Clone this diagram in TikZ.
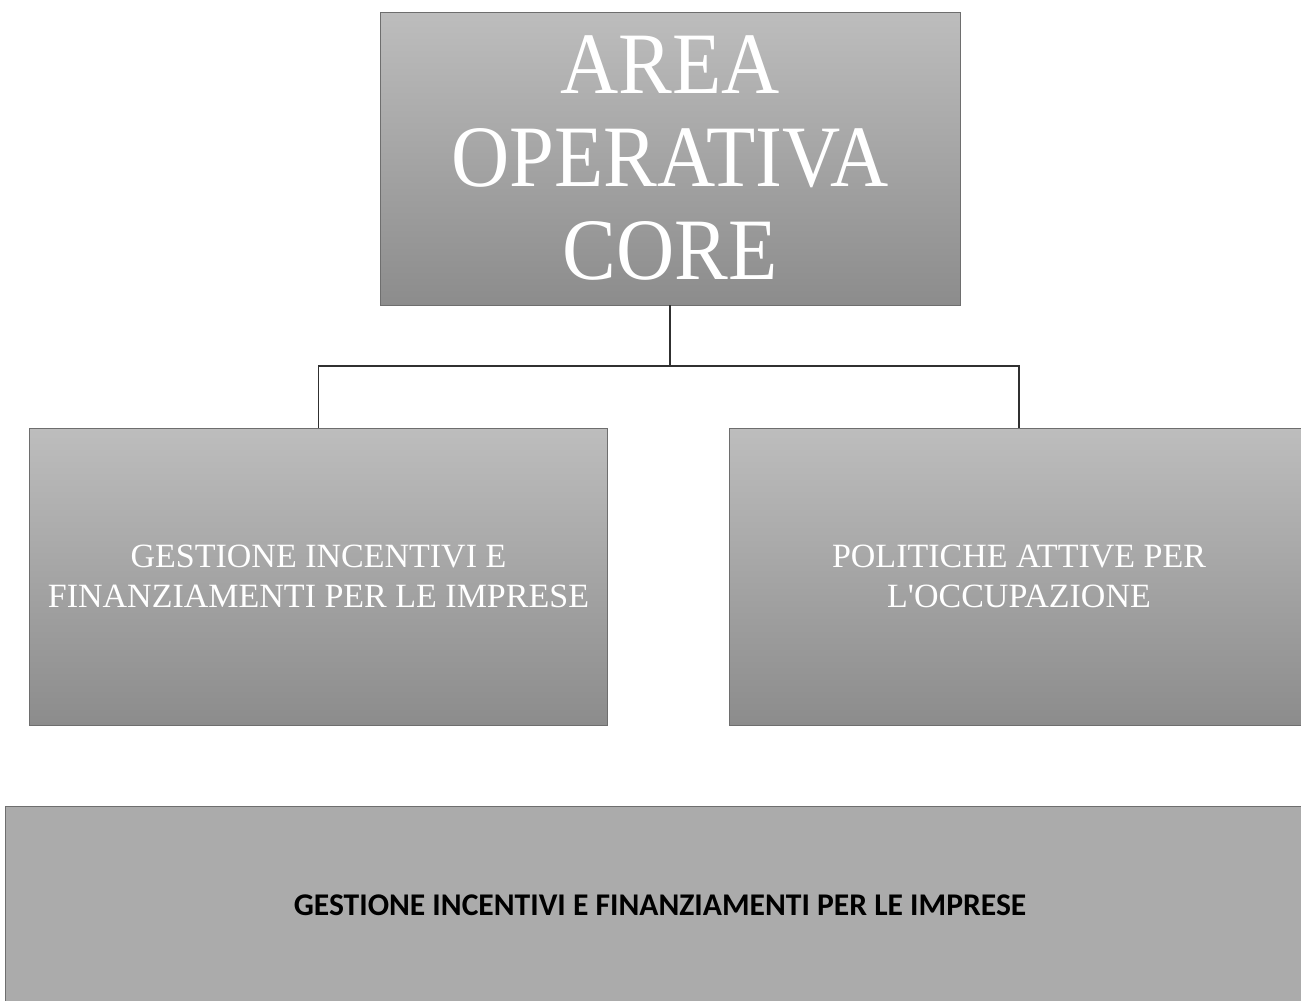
\documentclass[tikz,border=0pt]{standalone}
\usepackage{fontspec}
\setmainfont{Liberation Serif}
\newfontfamily\titlefont[FakeStretch=0.92]{Liberation Serif}
\newfontfamily\boxfont{Liberation Serif}
\newfontfamily\calfont{Carlito}
\definecolor{boxlight}{HTML}{BDBDBD}
\definecolor{boxdark}{HTML}{8C8C8C}
\definecolor{bandgray}{HTML}{ABABAB}
\definecolor{edgegray}{HTML}{6E6E6E}
\definecolor{linkgray}{HTML}{303030}
\tikzset{
  unitbox/.style={rectangle, draw=edgegray, line width=0.8pt, inner sep=0pt,
    top color=boxlight, bottom color=boxdark, text=white, align=center},
  titlebox/.style={unitbox, minimum width=580, minimum height=293,
    font=\titlefont\fontsize{87.6}{93}\selectfont},
  subbox/.style={unitbox, minimum width=578, minimum height=297,
    font=\boxfont\fontsize{34}{40}\selectfont},
  bandbox/.style={rectangle, draw=edgegray, line width=0.8pt, fill=bandgray,
    inner sep=0pt, text=black, font=\calfont\bfseries\fontsize{31.6}{36}\selectfont},
  link/.style={draw=linkgray, line width=1.8pt}
}
\begin{document}
\begin{tikzpicture}[x=1pt,y=-1pt]
\useasboundingbox (0,0) rectangle (1301,1001);
\fill[white] (0,0) rectangle (1301,1001);
\node[titlebox] (top) at (670,158.5) {\raisebox{4pt}{\parbox{560pt}{\centering AREA\\OPERATIVA\\CORE}}};
\node[subbox] (left) at (318.5,576.5) {GESTIONE INCENTIVI E\\FINANZIAMENTI PER LE IMPRESE};
\node[subbox, minimum width=580] (right) at (1019,576.5) {POLITICHE ATTIVE PER\\L'OCCUPAZIONE};
\node[bandbox, minimum width=1310, minimum height=198] (band) at (660,905) {GESTIONE INCENTIVI E FINANZIAMENTI PER LE IMPRESE};
\coordinate (bus) at (0,366);
\draw[link] (top.south) -- (top.south |- bus);
\draw[link] (left.north) |- (right.north |- bus) -- (right.north);
\end{tikzpicture}
\end{document}
